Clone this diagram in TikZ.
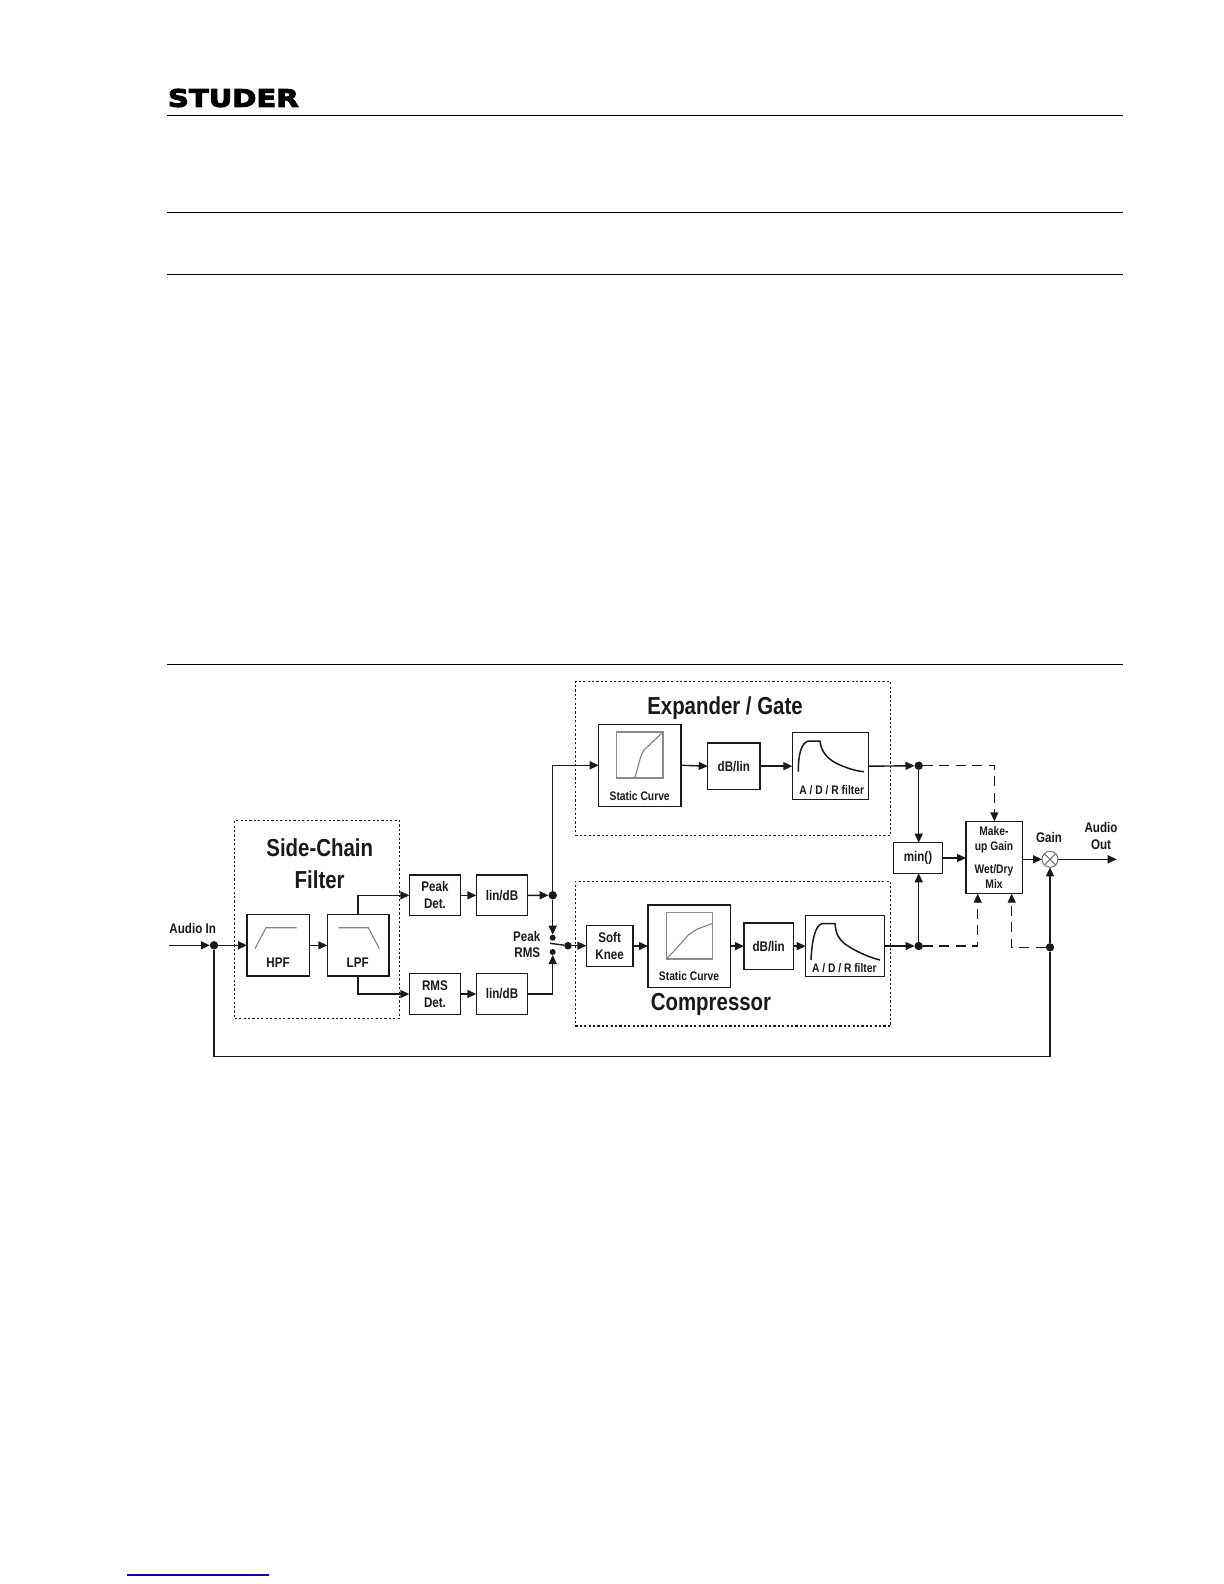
\documentclass[tikz,border=0pt]{standalone}
\usepackage{fontspec}
\usetikzlibrary{arrows.meta,fit}
\setmainfont{Liberation Sans}
\newfontfamily\lab{Liberation Sans}[FakeStretch=0.83]
\newfontfamily\logofont{DejaVu Sans Bold}[FakeStretch=1.21,FakeBold=4.5]
\definecolor{ink}{gray}{0.1}
\definecolor{footblue}{RGB}{10,10,160}
\tikzset{
  blk/.style={draw=ink,line width=.75pt,inner sep=0pt,outer sep=0pt,font=\lab\bfseries\fontsize{7}{8.5}\selectfont,align=center,text=ink},
  inner box/.style={draw=black!45,line width=.7pt,inner sep=0pt,outer sep=0pt},
  grp/.style={draw=ink,line width=.75pt,dash pattern=on 1.1pt off 1.1pt,inner sep=0pt,outer sep=0pt},
  txt/.style={font=\lab\bfseries\fontsize{7}{8.5}\selectfont,align=center,text=ink,inner sep=0pt},
  small/.style={font=\lab\bfseries\fontsize{6.2}{7.5}\selectfont,align=center,text=ink,inner sep=0pt},
  title/.style={font=\lab\bfseries\fontsize{12.3}{15}\selectfont,align=center,text=ink,inner sep=0pt},
  dot/.style={circle,fill=ink,inner sep=0pt,outer sep=0pt,minimum size=4.2pt},
  sdot/.style={circle,fill=ink,inner sep=0pt,outer sep=0pt,minimum size=3pt},
  line/.style={draw=ink,line width=.7pt},
  arr/.style={line,-{Triangle[length=4.5pt,width=4pt]}},
  darr/.style={arr,dash pattern=on 5pt off 3.2pt},
  curve/.style={draw=black!50,line width=.55pt},
  env/.style={draw=ink,line width=.75pt},
  rule/.style={draw=black,line width=.5pt}
}
\begin{document}
\begin{tikzpicture}[x=0.5pt,y=-0.5pt]
\useasboundingbox[fill=white] (0,0) rectangle (1224,1584);
% page furniture
\node[inner sep=0pt,anchor=center] (logo) at (233.3,98) {\logofont\fontsize{12}{14}\selectfont STUDER};
\coordinate (ra1) at (167,115.5); \coordinate (rb1) at (1123,115.5);
\coordinate (ra2) at (167,212.5); \coordinate (rb2) at (1123,212.5);
\coordinate (ra3) at (167,274.5); \coordinate (rb3) at (1123,274.5);
\coordinate (ra4) at (167,664.5); \coordinate (rb4) at (1123,664.5);
\coordinate (fa) at (127,1575); \coordinate (fb) at (268.7,1575);
\draw[rule] (ra1) -- (rb1);
\draw[rule] (ra2) -- (rb2);
\draw[rule] (ra3) -- (rb3);
\draw[rule] (ra4) -- (rb4);
\draw[draw=footblue,line width=.8pt] (fa) -- (fb);
% groups
\node[grp,fit={(234.7,820.3)(399.3,1018.3)}] (gside) {};
\node[grp,fit={(575.3,681.7)(890.7,835.3)}] (gexp) {};
\node[grp,fit={(575.3,881.3)(890.7,1026)}] (gcomp) {};
\node[title,font=\lab\bfseries\fontsize{12.3}{14.2}\selectfont] (tside) at (319.7,863.5) {Side-Chain\\[1.6pt]Filter};
\node[title] (texp) at (725,708) {Expander / Gate};
\node[title] (tcomp) at (711,1004) {Compressor};
% side chain blocks
\node[blk,fit={(247,914.7)(309.3,976)}] (hpf) {};
\node[blk,fit={(327.3,914.7)(389,976)}] (lpf) {};
\node[txt] (thpf) at (278,962.3) {HPF};
\node[txt] (tlpf) at (357.7,962.3) {LPF};
\draw[curve] (255,948.7) -- (266,927.7) -- (296.7,927.7);
\draw[curve] (338.3,927.7) -- (368.3,927.7) -- (379.3,948.7);
\node[blk,fit={(409.3,875)(460.7,915.7)}] (peak) {};
\node[txt] (tpeak) at (peak.center) {Peak\\Det.};
\node[blk,fit={(476.3,875)(527.7,915.7)}] (ld1) {};
\node[txt] (tld1) at (ld1.center) {lin/dB};
\node[blk,fit={(409.3,973.3)(460.7,1014.7)}] (rms) {};
\node[txt] (trms) at (rms.center) {RMS\\Det.};
\node[blk,fit={(476.3,973.3)(527.7,1014.7)}] (ld2) {};
\node[txt] (tld2) at (ld2.center) {lin/dB};
% expander
\node[blk,fit={(598.7,724.3)(681,806.3)}] (sc1) {};
\node[inner box,fit={(616.7,732)(663,778)}] (ic1) {};
\draw[curve] (634.7,778) .. controls (638,768) and (640,756) .. (644,750) -- (663,732);
\node[small] (tsc1) at (639.7,795.7) {Static Curve};
\node[blk,fit={(707.7,743)(760,789.3)}] (db1) {};
\node[txt] (tdb1) at (db1.center) {dB/lin};
\node[blk,fit={(792.3,732.7)(868.3,799.7)}] (adr1) {};
\draw[env] (798.3,771.7) .. controls (798.3,755) and (801,743) .. (808.3,741) -- (820,741) .. controls (821,752) and (828,760) .. (840,765) .. controls (848,768.5) and (856,771) .. (864,771.7);
\node[small] (tadr1) at (831.7,790) {A / D / R filter};
% compressor
\node[blk,fit={(586.3,925.7)(633,966.3)}] (knee) {};
\node[txt] (tknee) at (knee.center) {Soft\\Knee};
\node[blk,fit={(648,905)(730.7,987.3)}] (sc2) {};
\node[inner box,fit={(666.3,912.7)(712.7,959)}] (ic2) {};
\draw[curve] (666.3,959) -- (675,950) -- (688.3,935) -- (696.7,929.3) -- (712.7,923.3);
\node[small] (tsc2) at (689,976.3) {Static Curve};
\node[blk,fit={(744,923)(793.3,969.3)}] (db2) {};
\node[txt] (tdb2) at (db2.center) {dB/lin};
\node[blk,fit={(805.7,915.7)(884.3,976.3)}] (adr2) {};
\draw[env] (811,960) .. controls (812,940) and (815,926) .. (821.7,923.7) -- (835,923.7) .. controls (836,934) and (838,938) .. (845,944) .. controls (855,951) and (868,957) .. (880,960);
\node[small] (tadr2) at (844.3,967.7) {A / D / R filter};
% output section
\node[blk,fit={(893.3,842.7)(942.7,873.3)}] (minb) {};
\node[txt] (tmin) at (minb.center) {min()};
\node[blk,fit={(966,821.3)(1022.7,893.7)}] (make) {};
\node[small] (tmake) at (994,857.3) {Make-\\up Gain\\[4.2pt]Wet/Dry\\Mix};
\node[circle,draw=black!55,line width=.5pt,fill=white,inner sep=0pt,outer sep=0pt,minimum size=8pt] (mult) at (1050,859.3) {};
\draw[draw=black!55,line width=.5pt] (mult.45) -- (mult.225);
\draw[draw=black!55,line width=.5pt] (mult.135) -- (mult.315);
% labels
\node[txt] (lin) at (192.7,928) {Audio In};
\node[txt] (lpk) at (526.7,936) {Peak};
\node[txt] (lrm) at (527.3,952.7) {RMS};
\node[txt] (lgain) at (1049,837.7) {Gain};
\node[txt] (lout) at (1101,835.5) {Audio\\Out};
% junctions
\node[dot] (j0) at (214,945.3) {};
\node[dot] (j1) at (552.7,895.3) {};
\node[sdot] (swa) at (552.7,937.7) {};
\node[sdot] (swb) at (552.7,952) {};
\node[dot,minimum size=3.8pt] (swp) at (568,945.7) {};
\node[dot] (j2) at (918.7,765.7) {};
\node[dot] (j3) at (918.7,946) {};
\node[dot] (jg) at (1050,947.3) {};
\coordinate (ain) at (169.3,945.3);
\coordinate (aout) at (1116.7,859.3);
\coordinate (swt) at (550,943.3);
\coordinate (corner) at (1050,1056.7);
\coordinate (mkl) at (977.7,893.7);
\coordinate (mkr) at (1011.7,893.7);
% connectors
\draw[arr] (ain) -- (j0);
\draw[arr] (j0) -- (hpf.west |- j0);
\draw[line] (j0) |- (corner) -- (jg);
\draw[arr] (jg) -- (mult.south);
\draw[arr] (hpf.east) -- (lpf.west);
\draw[arr] (lpf.north) |- (peak.west);
\draw[arr] (lpf.south) |- (rms.west);
\draw[arr] (peak.east) -- (ld1.west);
\draw[arr] (rms.east) -- (ld2.west);
\draw[arr] (ld1.east) -- (j1);
\draw[arr] (ld2.east) -| (swb);
\draw[arr] (j1) -- (swa);
\draw[arr] (j1) |- (sc1.west);
\draw[line] (swt) -- (swp);
\draw[arr] (swp) -- (knee.west |- swp);
\draw[arr] (knee.east) -- (sc2.west |- knee.east);
\draw[arr] (sc2.east) -- (db2.west);
\draw[arr] (db2.east) -- (adr2.west |- db2.east);
\draw[arr] (sc1.east) -- (db1.west);
\draw[arr] (db1.east) -- (adr1.west |- db1.east);
\draw[arr] (adr1.east) -- (j2);
\draw[arr] (adr2.east) -- (j3);
\draw[arr] (j2) -- (j2 |- minb.north);
\draw[arr] (j3) -- (j3 |- minb.south);
\draw[arr] (minb.east) -- (make.west |- minb.east);
\draw[arr] (make.east |- mult) -- (mult.west);
\draw[arr] (mult.east) -- (aout);
\draw[darr] (j2) -| (make.north);
\draw[darr] (j3) -| (mkl);
\draw[darr] (jg) -| (mkr);
\end{tikzpicture}
\end{document}
